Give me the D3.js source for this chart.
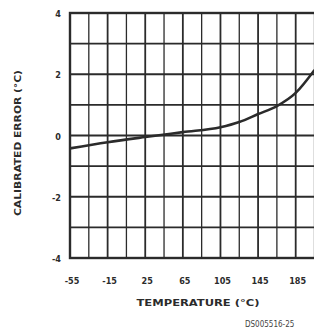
<!DOCTYPE html>
<html><head><meta charset="utf-8">
<script src="https://cdn.jsdelivr.net/npm/d3@7/dist/d3.min.js"></script>
<style>body{margin:0;background:#fff;overflow:hidden}</style>
</head><body><div id="chart"></div>
<script>
// calibrated error curve
const temps = [-55, -15, 25, 65, 105, 125, 145, 165, 185, 205];
const errors = [-0.42, -0.22, -0.05, 0.11, 0.27, 0.44, 0.70, 0.96, 1.39, 2.14];
const xTicks = [-55, -15, 25, 65, 105, 145, 185];
const yTicks = [-4, -2, 0, 2, 4];

const W = 314, H = 332;
const svg = d3.select("#chart").append("svg").attr("width", W).attr("height", H);
const x = d3.scaleLinear().domain([-55, 205]).range([70, 314.5]);
const y = d3.scaleLinear().domain([-4, 4]).range([258, 13]);
const ink = "#2b2b2b";
const font = "'DejaVu Sans Condensed', 'DejaVu Sans', sans-serif";

const g = svg.append("g");
// grid
g.selectAll(".vg").data(d3.range(-55, 206, 20)).join("line")
  .attr("x1", d => x(d)).attr("x2", d => x(d))
  .attr("y1", y(4)).attr("y2", y(-4))
  .attr("stroke", ink).attr("stroke-width", (d, i) => i % 2 ? 1.3 : 1.8);
g.selectAll(".hg").data(d3.range(-4, 5, 1)).join("line")
  .attr("x1", x(-55)).attr("x2", W)
  .attr("y1", d => y(d)).attr("y2", d => y(d))
  .attr("stroke", ink).attr("stroke-width", 1.8);
// frame
g.append("rect").attr("x", x(-55)).attr("y", y(4))
  .attr("width", W - x(-55) + 5).attr("height", y(-4) - y(4))
  .attr("fill", "none").attr("stroke", ink).attr("stroke-width", 2.4);

// curve
const line = d3.line().x((d, i) => x(temps[i])).y(d => y(d)).curve(d3.curveMonotoneX);
g.append("path").datum(errors).attr("d", line)
  .attr("fill", "none").attr("stroke", ink).attr("stroke-width", 2.6);

// tick labels
svg.selectAll(".xt").data(xTicks).join("text")
  .attr("x", d => x(d) + 2).attr("y", 284)
  .attr("text-anchor", "middle").attr("font-family", font)
  .attr("font-weight", "bold").attr("font-size", 9).attr("fill", ink)
  .text(d => d);
svg.selectAll(".yt").data(yTicks).join("text")
  .attr("x", 61).attr("y", d => y(d) + 4)
  .attr("text-anchor", "end").attr("font-family", font)
  .attr("font-weight", "bold").attr("font-size", 9).attr("fill", ink)
  .text(d => d);

// axis titles
svg.append("text").attr("transform", "translate(21,143) rotate(-90)")
  .attr("text-anchor", "middle").attr("font-family", font)
  .attr("font-weight", "bold").attr("font-size", 9).attr("fill", ink)
  .attr("textLength", 146).attr("lengthAdjust", "spacingAndGlyphs")
  .text("CALIBRATED ERROR (°C)");
svg.append("text").attr("x", 198).attr("y", 306)
  .attr("text-anchor", "middle").attr("font-family", font)
  .attr("font-weight", "bold").attr("font-size", 9).attr("fill", ink)
  .attr("textLength", 123).attr("lengthAdjust", "spacingAndGlyphs")
  .text("TEMPERATURE (°C)");
svg.append("text").attr("x", 245).attr("y", 327)
  .attr("font-family", font).attr("font-size", 8).attr("fill", "#444")
  .text("DS005516-25");
</script></body></html>
